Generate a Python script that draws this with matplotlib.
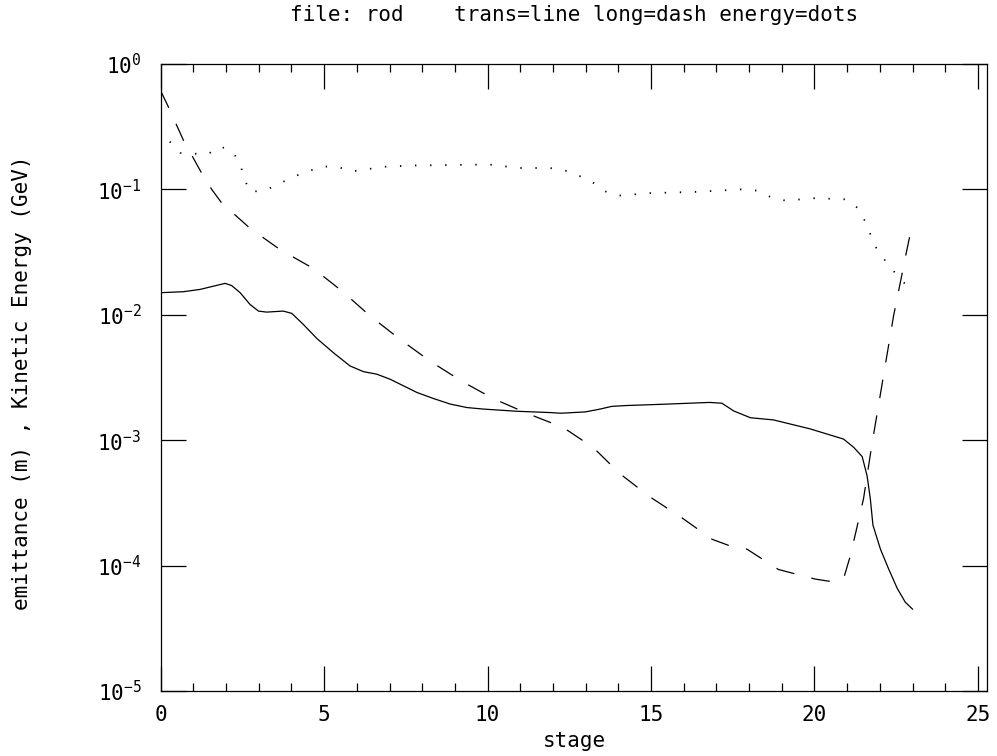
import matplotlib
import matplotlib.pyplot as plt
from matplotlib.ticker import MultipleLocator, NullLocator, LogLocator

matplotlib.use("Agg")
plt.rcParams["font.family"] = ["DejaVu Sans Mono", "DejaVu Sans"]

# trans emittance (solid line)
trans_x = [0, 0.69, 1.2, 1.61, 1.97, 2.17, 2.43, 2.73, 2.99, 3.24, 3.75, 4.01,
           4.36, 4.78, 5.28, 5.79, 6.2, 6.61, 7.02, 7.43, 7.84, 8.34, 8.86,
           9.37, 9.87, 10.9, 11.92, 12.24, 12.99, 13.44, 13.8, 14.26, 15.28,
           16.8, 17.17, 17.53, 18.04, 18.75, 19.87, 20.89, 21.2, 21.46, 21.61,
           21.71, 21.79, 22.02, 22.27, 22.53, 22.78, 23.0]
trans_y = [0.0150, 0.01527, 0.01592, 0.0169, 0.0178, 0.0171, 0.0150, 0.0121,
           0.0107, 0.0105, 0.0107, 0.01026, 0.00839, 0.00646, 0.00499, 0.00391,
           0.00352, 0.00336, 0.00306, 0.00271, 0.00240, 0.00215, 0.00194,
           0.00182, 0.00177, 0.00170, 0.00166, 0.00164, 0.00168, 0.00177,
           0.00186, 0.00189, 0.00193, 0.00200, 0.00197, 0.00171, 0.00151,
           0.00145, 0.00123, 0.00102, 0.000877, 0.00074, 0.00052, 0.00034,
           0.00021, 0.000135, 9.4e-5, 6.6e-5, 5.1e-5, 4.5e-5]

# long emittance (dashes)
long_x = [0, 0.23, 0.69, 1.25, 1.56, 1.87, 2.73, 3.65, 4.67, 5.54, 6.41, 7.32,
          8.24, 9.21, 10.18, 11.25, 12.32, 13.24, 14.06, 14.98, 15.9, 16.87,
          17.37, 17.94, 18.9, 20.03, 20.59, 20.89, 21.1, 21.5, 21.76, 22.42,
          22.83, 23.0]
long_y = [0.61, 0.457, 0.248, 0.135, 0.100, 0.0776, 0.0490, 0.0331, 0.0234,
          0.0155, 0.00977, 0.00637, 0.00427, 0.00295, 0.00214, 0.00162,
          0.00126, 0.00087, 0.000537, 0.000351, 0.000245, 0.000162, 0.000145,
          0.000135, 9.3e-5, 7.8e-5, 7.4e-5, 7.85e-5, 0.00012, 0.00034, 0.00093,
          0.00977, 0.0331, 0.0537]

# kinetic energy (dots)
energy_x = [0, 0.28, 0.61, 1.43, 1.82, 2.2, 2.43, 2.55, 2.73, 3.19, 3.6, 4.06,
            4.47, 4.93, 5.39, 5.83, 6.28, 6.74, 7.68, 8.6, 10.03, 10.95, 11.9,
            12.32, 12.78, 13.21, 13.6, 14.0, 14.96, 16.36, 17.78, 18.24, 18.65,
            19.11, 20.03, 20.98, 21.33, 21.56, 21.73, 21.92, 22.2, 22.51, 22.83,
            23.0]
energy_y = [0.30, 0.24, 0.195, 0.19, 0.22, 0.20, 0.16, 0.123, 0.0955, 0.098,
            0.11, 0.126, 0.138, 0.152, 0.152, 0.139, 0.144, 0.151, 0.155, 0.156,
            0.158, 0.148, 0.148, 0.143, 0.129, 0.114, 0.0964, 0.0891, 0.0933,
            0.0955, 0.100, 0.0977, 0.0871, 0.0813, 0.0851, 0.0832, 0.0708,
            0.055, 0.0427, 0.0327, 0.0263, 0.0209, 0.0170, 0.0158]

title = "file: rod    trans=line long=dash energy=dots"

fig = plt.figure(figsize=(9.97, 7.56), dpi=100)
ax = fig.add_axes([0.1612, 0.086, 0.8288, 0.8294])

ax.plot(trans_x, trans_y, color="black", lw=0.9)
ax.plot(long_x, long_y, color="black", lw=0.9, linestyle=(0, (15, 14)))
ax.plot(energy_x, energy_y, color="black", lw=1.3, linestyle=(0, (0.75, 7.6)))

ax.set_yscale("log")
ax.set_ylim(1e-5, 1)
ax.set_xlim(0, 25.28)

ax.xaxis.set_major_locator(MultipleLocator(5))
ax.xaxis.set_minor_locator(MultipleLocator(1))
ax.yaxis.set_major_locator(LogLocator(base=10, numticks=10))
ax.yaxis.set_minor_locator(NullLocator())

ax.tick_params(which="both", direction="in", top=True, right=True,
               width=0.9, labelsize=15)
ax.tick_params(which="major", length=18)
ax.tick_params(which="minor", length=6)
ax.tick_params(axis="x", pad=10)
ax.tick_params(axis="y", pad=14)

for s in ax.spines.values():
    s.set_linewidth(0.9)

fig.text(574 / 997, 1 - 15 / 756, title, ha="center", va="center", fontsize=15)
fig.text(574 / 997, 1 - 741 / 756, "stage", ha="center", va="center", fontsize=15)
fig.text(22 / 997, 1 - 383 / 756, "emittance (m) , Kinetic Energy (GeV)",
         ha="center", va="center", rotation=90, fontsize=15)

fig.savefig("out.png", dpi=100)
